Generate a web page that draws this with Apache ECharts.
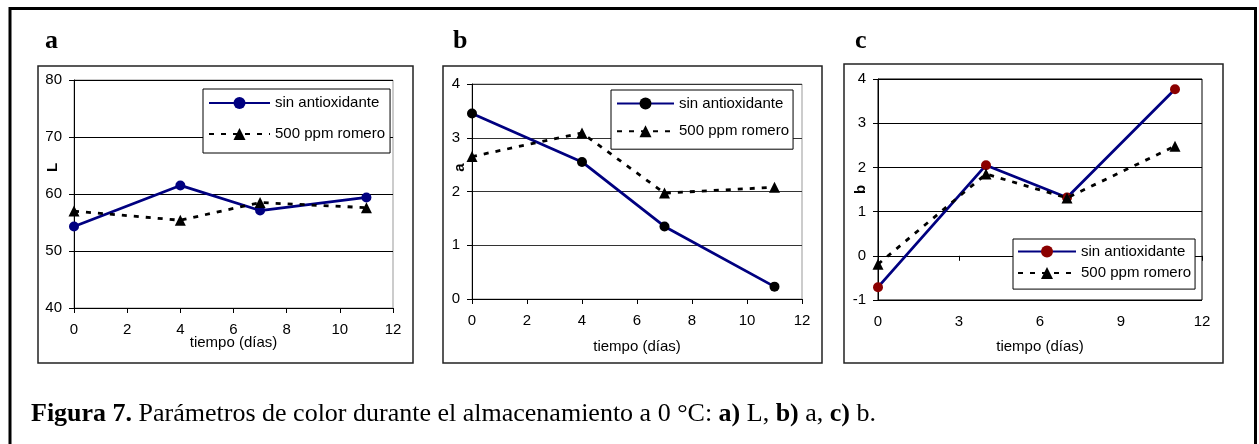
<!DOCTYPE html>
<html><head><meta charset="utf-8">
<script src="https://cdn.jsdelivr.net/npm/echarts@6/dist/echarts.min.js"></script>
<style>html,body{margin:0;padding:0;background:#fff;}#c{width:1259px;height:444px;}</style>
</head><body><div id="c"></div>
<script>
// ---- data ----
const days = [0, 4, 7, 11];
const L_sin = [54.3, 61.5, 57.1, 59.4];
const L_rom = [57.0, 55.4, 58.5, 57.6];
const a_sin = [3.45, 2.55, 1.35, 0.23];
const a_rom = [2.65, 3.09, 1.97, 2.08];
const b_sin = [-0.71, 2.05, 1.32, 3.77];
const b_rom = [-0.19, 1.85, 1.31, 2.48];
const seriesLabels = ['sin antioxidante', '500 ppm romero'];
const yTitles = ['L', 'a', 'b'];
const xTitle = 'tiempo (días)';
const panelLetters = ['a', 'b', 'c'];
const yMin = [40, 0, -1], yMax = [80, 4, 4], yStep = [10, 1, 1];
const xMin = [0, 0, 0], xMax = [12, 12, 12], xStep = [2, 2, 3];
const captionText = '{b|Figura 7.} Parámetros de color durante el almacenamiento a 0 °C: {b|a)} L, {b|b)} a, {b|c)} b.';

const SANS = "'Liberation Sans', Arial, sans-serif";
const SERIF = "'Liberation Serif', 'Times New Roman', serif";
const pair = (xs, ys) => xs.map((x, i) => [x, ys[i]]);

const grids = [
  {left: 74, top: 80, width: 319, height: 228, show: true, borderColor: '#999', borderWidth: 1},
  {left: 472, top: 84, width: 330, height: 215, show: true, borderColor: '#999', borderWidth: 1},
  {left: 878, top: 79, width: 324, height: 221, show: true, borderColor: '#000', borderWidth: 1}
];
const xNameGap = [27, 40, 39];
const yNameGap = [14, 5, 10];
const yNamePad = [[0,0,0,53],[0,0,0,48],[0,0,0,0]];
const splitColors = ['#000', '#333', '#000'];
const sinMarker = ['#000080', '#000', '#8B0000'];

const xAxes = [], yAxes = [], series = [], legends = [];
const legendPos = [
  {left: 203, top: 89, padding: [6.5, 5, 11.5, 5], itemGap: 16, itemWidth: 61},
  {left: 611, top: 90, padding: [6, 4, 10.5, 5], itemGap: 12.7, itemWidth: 57},
  {left: 1013, top: 239, padding: [5, 4, 8.5, 4], itemGap: 6.6, itemWidth: 58}
];
const sinData = [L_sin, a_sin, b_sin];
const romData = [L_rom, a_rom, b_rom];
const nameMap = {};
for (let i = 0; i < 3; i++) {
  xAxes.push({
    type: 'value', gridIndex: i, min: xMin[i], max: xMax[i], interval: xStep[i],
    name: xTitle, nameLocation: 'middle', nameGap: xNameGap[i], nameMoveOverlap: false,
    nameTextStyle: {fontFamily: SANS, fontSize: 15, color: '#000'},
    axisLine: {show: true, lineStyle: {color: '#000', width: 1}},
    axisTick: {show: true, inside: false, length: 5, lineStyle: {color: '#000'}},
    axisLabel: {fontFamily: SANS, fontSize: 15, color: '#000', margin: 14},
    splitLine: {show: false}
  });
  yAxes.push({
    type: 'value', gridIndex: i, min: yMin[i], max: yMax[i], interval: yStep[i],
    name: yTitles[i], nameLocation: 'middle', nameRotate: 90, nameGap: yNameGap[i], nameMoveOverlap: false,
    nameTextStyle: {fontFamily: SANS, fontSize: 15, fontWeight: 'bold', color: '#000', padding: yNamePad[i]},
    axisLine: {show: true, onZero: false, lineStyle: {color: '#000', width: 1}},
    axisTick: {show: true, inside: false, length: 5, lineStyle: {color: '#000'}},
    axisLabel: {fontFamily: SANS, fontSize: 15, color: '#000', margin: 12},
    splitLine: {show: true, lineStyle: {color: splitColors[i], width: 1}}
  });
  const nSin = 'sin_' + i, nRom = 'rom_' + i;
  nameMap[nSin] = seriesLabels[0];
  nameMap[nRom] = seriesLabels[1];
  series.push({
    name: nSin, type: 'line', xAxisIndex: i, yAxisIndex: i,
    data: pair(days, sinData[i]), symbol: 'circle', symbolSize: 10,
    lineStyle: {color: '#000080', width: 2.8},
    itemStyle: {color: sinMarker[i], borderColor: sinMarker[i], borderWidth: 0},
    color: sinMarker[i],
    animation: false, z: 3
  });
  series.push({
    name: nRom, type: 'line', xAxisIndex: i, yAxisIndex: i,
    data: pair(days, romData[i]), symbol: 'triangle', symbolSize: 11,
    lineStyle: {color: '#000', width: 2.8, type: [5, 7]},
    itemStyle: {color: '#000'},
    animation: false, z: 4
  });
  legends.push(Object.assign({
    orient: 'vertical', data: [nSin, nRom], itemHeight: 15,
    backgroundColor: '#fff', borderColor: '#000', borderWidth: 1, borderRadius: 0,
    selectedMode: false,
    formatter: n => nameMap[n],
    textStyle: {fontFamily: SANS, fontSize: 15, color: '#000'}
  }, legendPos[i]));
}

const graphics = [
  {type: 'rect', shape: {x: 10, y: 8.5, width: 1245.5, height: 520}, style: {fill: 'none', stroke: '#000', lineWidth: 3}, silent: true},
  {type: 'rect', shape: {x: 38, y: 66, width: 375, height: 297}, style: {fill: 'none', stroke: '#222', lineWidth: 1.5}, silent: true, z: -1},
  {type: 'rect', shape: {x: 443, y: 66, width: 379, height: 297}, style: {fill: 'none', stroke: '#222', lineWidth: 1.5}, silent: true, z: -1},
  {type: 'rect', shape: {x: 844, y: 64, width: 379, height: 299}, style: {fill: 'none', stroke: '#222', lineWidth: 1.5}, silent: true, z: -1}
];
const letterX = [45, 453, 855];
for (let i = 0; i < 3; i++) {
  graphics.push({type: 'text', x: letterX[i], y: 41, style: {text: panelLetters[i], font: 'bold 26px ' + SERIF, fill: '#000', verticalAlign: 'middle', align: 'left'}});
}
graphics.push({
  type: 'text', x: 31, y: 414,
  style: {
    text: captionText, fill: '#000', verticalAlign: 'middle', align: 'left',
    fontFamily: SERIF, fontSize: 26,
    rich: {b: {fontFamily: SERIF, fontSize: 26, fontWeight: 'bold'}}
  }
});

const chart = echarts.init(document.getElementById('c'), null, {renderer: 'canvas'});
chart.setOption({
  animation: false,
  backgroundColor: '#fff',
  grid: grids, xAxis: xAxes, yAxis: yAxes, series: series, legend: legends,
  graphic: graphics
});
</script></body></html>
